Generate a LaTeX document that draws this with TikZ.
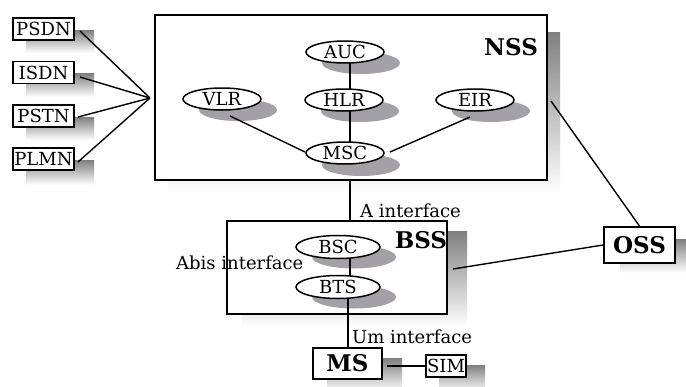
\documentclass[tikz,border=0pt]{standalone}
\usepackage{fontspec}
\setmainfont{DejaVu Serif}
\usetikzlibrary{shapes.geometric}
\definecolor{shade}{RGB}{163,161,166}
\begin{document}
\begin{tikzpicture}[x=1pt,y=-1pt,
  netbox/.style={draw, line width=1.8pt, fill=white, inner sep=0pt, minimum width=61pt, minimum height=22pt, font=\fontsize{18}{20}\selectfont},
  sysframe/.style={draw, line width=1.8pt, fill=white, inner sep=0pt},
  bigtext/.style={font=\fontsize{23}{26}\selectfont\bfseries},
  unit/.style={ellipse, draw, line width=1.5pt, fill=white, minimum width=78pt, minimum height=22pt, inner sep=0pt, font=\fontsize{18}{20}\selectfont},
  unitshadow/.style={ellipse, fill=shade, minimum width=78pt, minimum height=22pt, inner sep=0pt},
  link/.style={line width=1.4pt},
  lbl/.style={font=\fontsize{18}{20}\selectfont, inner sep=0pt, anchor=west},
  syslbl/.style={bigtext, inner sep=0pt}
]
\useasboundingbox (0,0) rectangle (686,386);
\fill[white] (0,0) rectangle (686,386);

% ---------- left networks ----------
\fill[shade] (26,30) rectangle (94,53);
\fill[shade] (26,73) rectangle (94,97);
\fill[shade] (26,117) rectangle (94,140);
\fill[shade] (26,160) rectangle (94,185);
\node[netbox] (psdn) at (43.5,29) {PSDN};
\node[netbox] (isdn) at (43.5,72.5) {ISDN};
\node[netbox] (pstn) at (43.5,116) {PSTN};
\node[netbox] (plmn) at (43.5,159) {PLMN};

\coordinate (hub) at (150,98);
\coordinate (psdnE) at (80,31);
\coordinate (isdnE) at (80,77);
\coordinate (pstnE) at (78,117);
\coordinate (plmnE) at (78,162);
\draw[link] (psdnE) -- (hub);
\draw[link] (isdnE) -- (hub);
\draw[link] (pstnE) -- (hub);
\draw[link] (plmnE) -- (hub);

% ---------- NSS ----------
\fill[shade] (168,32) rectangle (560,193);
\node[sysframe, minimum width=392pt, minimum height=165pt] (nss) at (351,97.5) {};
\node[syslbl] (nsslbl) at (511,47) {NSS};

\node[unitshadow] (aucS) at (361,63) {};
\node[unitshadow] (hlrS) at (360,111) {};
\node[unitshadow] (vlrS) at (238,110) {};
\node[unitshadow] (eirS) at (491,111) {};
\node[unitshadow] (mscS) at (361,165) {};

\coordinate (aucB) at (350,60);
\coordinate (hlrC) at (350,100);
\coordinate (mscT) at (350,150);
\coordinate (vlrL) at (230,116);
\coordinate (eirL) at (470,117);
\coordinate (mscW) at (305,152);
\coordinate (mscE) at (390,152);
\draw[link] (aucB) -- (hlrC);
\draw[link] (hlrC) -- (mscT);
\draw[link] (vlrL) -- (mscW);
\draw[link] (eirL) -- (mscE);

\node[unit] (auc) at (345,52) {AUC};
\node[unit] (hlr) at (344,100) {HLR};
\node[unit] (vlr) at (222,99) {VLR};
\node[unit] (eir) at (475,100) {EIR};
\node[unit] (msc) at (345,153) {MSC};

% ---------- OSS ----------
\fill[shade] (620,239) rectangle (690,273);
\node[sysframe, bigtext, minimum width=71pt, minimum height=36pt] (oss) at (639.5,245) {OSS};
\coordinate (nssR) at (551,101);
\draw[link] (nssR) -- (oss.north);

% ---------- BSS ----------
\fill[shade] (242,231) rectangle (467,327);
\coordinate (nssB) at (350,181);
\coordinate (bssT) at (350,221);
\draw[link] (nssB) -- (bssT);
\node[sysframe, minimum width=220pt, minimum height=93pt] (bss) at (337,267.5) {};
\node[syslbl] (bsslbl) at (421,240) {BSS};
\node[lbl] (aif) at (360,211) {A interface};

\node[unitshadow, minimum width=84pt, minimum height=23pt] (bscS) at (354,257) {};
\node[unitshadow, minimum width=84pt, minimum height=23pt] (btsS) at (354,297) {};
\coordinate (bscC) at (350,250);
\coordinate (btsC) at (350,285);
\draw[link] (bscC) -- (btsC);
\node[unit, minimum width=84pt, minimum height=23pt] (bsc) at (338,247) {BSC};
\node[unit, minimum width=84pt, minimum height=23pt] (bts) at (338,287) {BTS};
\node[lbl] (abis) at (176,263) {Abis interface};

\coordinate (bssR) at (453,269);
\draw[link] (bssR) -- (oss.west);

% ---------- MS / SIM ----------
\fill[shade] (327,358) rectangle (402,392);
\fill[shade] (439,365) rectangle (485,392);
\coordinate (btsB) at (348,298);
\coordinate (msT) at (348,348);
\draw[link] (btsB) -- (msT);
\node[lbl] (um) at (352,337) {Um interface};
\node[sysframe, bigtext, minimum width=69pt, minimum height=31pt] (ms) at (347.5,363.5) {MS};
\node[netbox, minimum width=40pt, minimum height=22pt] (sim) at (446,366) {SIM};
\coordinate (msR) at (387,366);
\draw[link] (msR) -- (sim.west);
\end{tikzpicture}
\end{document}
